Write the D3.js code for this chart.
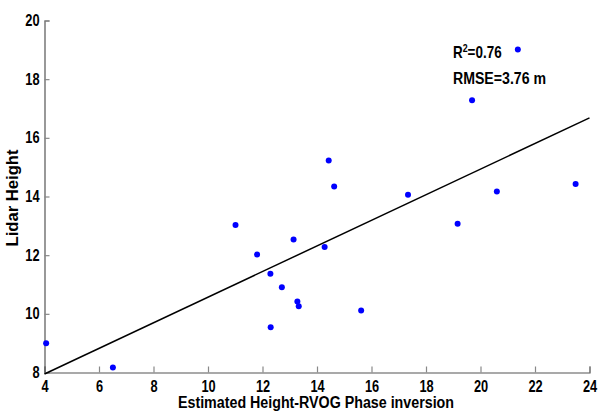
<!DOCTYPE html>
<html>
<head>
<meta charset="utf-8">
<script src="https://cdn.jsdelivr.net/npm/d3@7"></script>
<style>
  html, body { margin: 0; padding: 0; background: #fff; }
  svg text { font-family: "Liberation Sans Narrow", "Arial Narrow", "Liberation Sans", Arial, sans-serif; font-weight: bold; fill: #000; }
</style>
</head>
<body>
<svg id="chart" width="600" height="412"></svg>
<script>
// Data
const estimatedHeight = [4.06, 6.51, 12.71, 13.28, 13.33, 12.30, 15.62, 14.43, 14.63, 11.01,
                         13.14, 14.28, 11.80, 12.29, 21.37, 19.69, 17.34, 19.16, 20.60, 23.49];
const lidarHeight     = [9.00, 8.17, 10.91, 10.42, 10.26, 9.54, 10.11, 15.23, 14.34, 13.03,
                         12.53, 12.28, 12.02, 11.37, 19.01, 17.28, 14.06, 13.07, 14.17, 14.43];
const fitLineX = [4, 24];
const fitLineY = [7.95, 16.68];
const xTicks = [4, 6, 8, 10, 12, 14, 16, 18, 20, 22, 24];
const yTicks = [8, 10, 12, 14, 16, 18, 20];
const xTitle = "Estimated Height-RVOG Phase inversion";
const yTitle = "Lidar Height";
const statsR2 = "0.76";
const statsRMSE = "RMSE=3.76 m";

const svg = d3.select("#chart");
const x = d3.scaleLinear().domain([4, 24]).range([44.5, 589.5]);
const y = d3.scaleLinear().domain([8, 20]).range([372.5, 20.5]);

const axisColor = "#555";

function condense(sel, factor) {
  sel.each(function () {
    const L = this.getComputedTextLength();
    d3.select(this).attr("textLength", L * factor).attr("lengthAdjust", "spacingAndGlyphs");
  });
}

const xAxis = svg.append("g").attr("transform", `translate(0,${y(8)})`)
  .call(d3.axisBottom(x).tickValues(xTicks).tickSize(-6).tickPadding(14).tickFormat(d3.format("d")));
const yAxis = svg.append("g").attr("transform", `translate(${x(4)},0)`)
  .call(d3.axisLeft(y).tickValues(yTicks).tickSize(-5).tickPadding(5).tickFormat(d3.format("d")));

[xAxis, yAxis].forEach(g => {
  g.select(".domain").attr("stroke", axisColor).attr("stroke-width", 1.2);
  g.selectAll(".tick line").attr("stroke", "#888").attr("stroke-width", 1.2);
  g.selectAll(".tick text").style("font-size", "16px").attr("fill", "#000");
  condense(g.selectAll(".tick text"), 0.8);
});
xAxis.selectAll(".tick text").attr("dy", "0.35em");

// fit line
const line = d3.line().x(d => x(d[0])).y(d => y(d[1]));
svg.append("path")
  .datum(fitLineX.map((v, i) => [v, fitLineY[i]]))
  .attr("d", line)
  .attr("stroke", "#000").attr("stroke-width", 1.5).attr("fill", "none");

// points
svg.append("g").selectAll("circle")
  .data(estimatedHeight.map((v, i) => [v, lidarHeight[i]]))
  .join("circle")
  .attr("cx", d => x(d[0])).attr("cy", d => y(d[1]))
  .attr("r", 3).attr("fill", "#0000ff");

// stats text
const g1 = svg.append("g").attr("transform", "translate(453,57.5) scale(0.84,1)");
const t1 = g1.append("text").attr("x", 0).attr("y", 0).style("font-size", "16px");
t1.append("tspan").text("R");
t1.append("tspan").attr("dy", -6).style("font-size", "10.5px").text("2");
t1.append("tspan").attr("dy", 6).text("=" + statsR2);
svg.append("text").attr("x", 453).attr("y", 83.5).style("font-size", "16px")
  .attr("textLength", 93).attr("lengthAdjust", "spacingAndGlyphs").text(statsRMSE);

// axis titles
svg.append("text").attr("x", 316).attr("y", 408).attr("text-anchor", "middle")
  .style("font-size", "16px").attr("textLength", 276).attr("lengthAdjust", "spacingAndGlyphs").text(xTitle);
svg.append("text").attr("transform", "translate(17.5,198) rotate(-90)").attr("text-anchor", "middle")
  .style("font-size", "16px").attr("textLength", 97).attr("lengthAdjust", "spacingAndGlyphs").text(yTitle);
</script>
</body>
</html>
